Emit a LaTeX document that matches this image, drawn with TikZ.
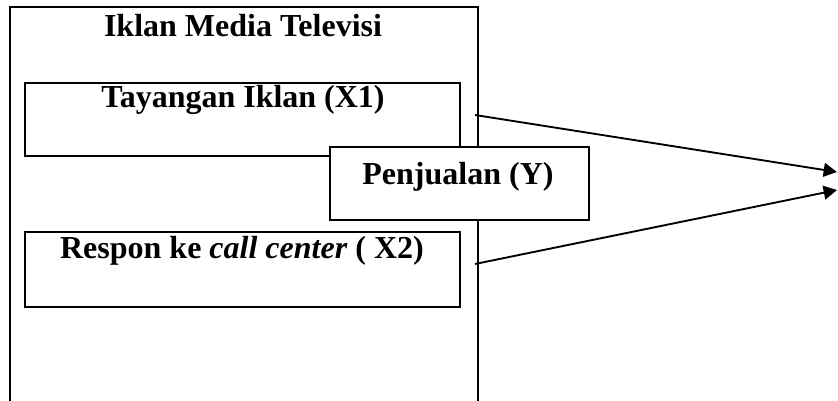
\documentclass[tikz,border=0pt]{standalone}
\usepackage{fontspec}
\setmainfont{Liberation Serif}
\usetikzlibrary{arrows.meta}

\begin{document}
\begin{tikzpicture}[x=0.375pt, y=-0.375pt, >={Triangle[length=5pt, width=5.2pt]},
  box/.style={rectangle, draw, line width=0.75pt, inner sep=0pt, minimum height=27.4pt},
  caption/.style={anchor=base, inner sep=0pt, font=\fontsize{12}{14}\selectfont\bfseries},
  arrow/.style={->, line width=0.7pt}]

  \useasboundingbox (0,0) rectangle (838,401);

  % Iklan Media Televisi frame (open at the bottom)
  \draw[line width=0.75pt] (10,401) -- (10,7) -- (478,7) -- (478,401);
  \node[caption] (media) at (243,37) {Iklan Media Televisi};

  % X1 and X2
  \node[box, minimum width=163.1pt] (tayangan) at (242.5,119.5) {};
  \node[caption] (tayangantxt) at (243,108) {Tayangan Iklan (X1)};
  \node[box, minimum width=163.1pt, minimum height=28.1pt] (respon) at (242.5,269.5) {};
  \node[caption] (respontxt) at (242,259) {Respon ke \textit{call center} ( X2)};

  % Y
  \node[box, fill=white, minimum width=97.1pt] (penjualan) at (459.5,183.5) {};
  \node[caption] (penjualantxt) at (458,185) {Penjualan (Y)};

  % Arrows
  \coordinate (x1out) at (475,115);
  \coordinate (x2out) at (475,264);
  \coordinate (tip1) at (837,172);
  \coordinate (tip2) at (837,190);
  \draw[arrow] (x1out) -- (tip1);
  \draw[arrow] (x2out) -- (tip2);

\end{tikzpicture}
\end{document}
